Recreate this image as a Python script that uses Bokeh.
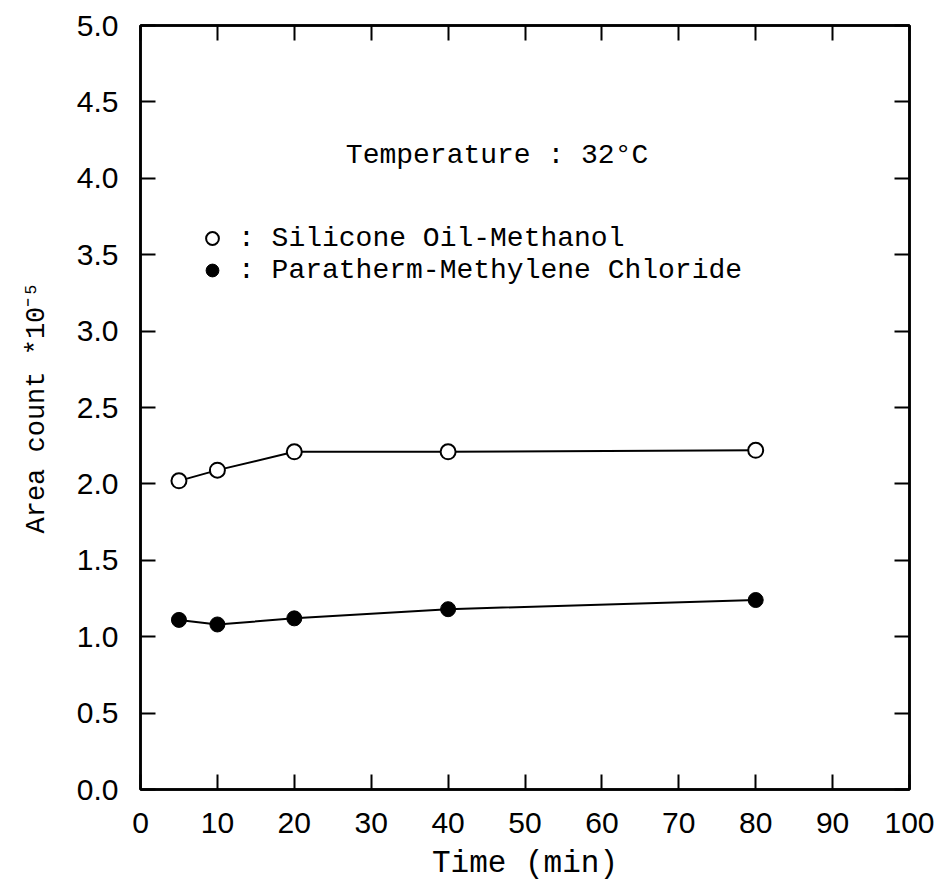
from bokeh.plotting import figure
from bokeh.models import (Range1d, LinearAxis, Label, Legend, LegendItem,
                          FixedTicker, CustomJSTickFormatter)
from bokeh.embed import file_html
from bokeh.resources import INLINE

# ---- data ----
time_min = [5, 10, 20, 40, 80]
silicone_methanol = [2.02, 2.09, 2.21, 2.21, 2.22]
paratherm_mecl2 = [1.11, 1.08, 1.12, 1.18, 1.24]
x_ticks = [0, 10, 20, 30, 40, 50, 60, 70, 80, 90, 100]
y_ticks = [0.0, 0.5, 1.0, 1.5, 2.0, 2.5, 3.0, 3.5, 4.0, 4.5, 5.0]

MONO = "Liberation Mono"
SANS = "Liberation Sans"

p = figure(width=947, height=890, output_backend="svg", toolbar_location=None,
           x_range=Range1d(0, 100), y_range=Range1d(0, 5),
           min_border_left=140, min_border_right=38,
           min_border_top=25, min_border_bottom=101,
           x_axis_type=None, y_axis_type=None)
p.xgrid.visible = False
p.ygrid.visible = False
p.background_fill_color = "white"
p.border_fill_color = "white"
p.outline_line_color = "black"
p.outline_line_width = 2.5


def style_axis(ax, show_labels, font_size="30px", standoff=22):
    ax.axis_line_color = "black"
    ax.axis_line_width = 2.5
    ax.major_tick_in = 15
    ax.major_tick_out = 0
    ax.major_tick_line_width = 2
    ax.major_tick_line_color = "black"
    ax.minor_tick_line_color = None
    if show_labels:
        ax.major_label_text_font = SANS
        ax.major_label_text_font_size = font_size
        ax.major_label_text_color = "black"
        ax.major_label_standoff = standoff
    else:
        ax.formatter = CustomJSTickFormatter(code="return ''")
        ax.major_label_text_font_size = "0px"
        ax.major_label_standoff = 0


xb = LinearAxis(ticker=FixedTicker(ticks=x_ticks))
style_axis(xb, True, standoff=23)
xb.axis_label = "Time (min)"
xb.axis_label_text_font = MONO
xb.axis_label_text_font_size = "31px"
xb.axis_label_text_font_style = "normal"
xb.axis_label_text_color = "black"
xb.axis_label_standoff = 10
p.add_layout(xb, "below")

yl = LinearAxis(ticker=FixedTicker(ticks=y_ticks))
style_axis(yl, True, standoff=22)
yl.formatter = CustomJSTickFormatter(code="return tick.toFixed(1)")
yl.axis_label = "Area count *10⁻⁵"
yl.axis_label_text_font = MONO
yl.axis_label_text_font_size = "27px"
yl.axis_label_text_font_style = "normal"
yl.axis_label_text_color = "black"
yl.axis_label_standoff = 22
p.add_layout(yl, "left")

xt = LinearAxis(ticker=FixedTicker(ticks=x_ticks))
style_axis(xt, False)
p.add_layout(xt, "above")
yr = LinearAxis(ticker=FixedTicker(ticks=y_ticks))
style_axis(yr, False)
p.add_layout(yr, "right")

# ---- series ----
p.line(time_min, silicone_methanol, line_color="black", line_width=2)
r_open = p.scatter(time_min, silicone_methanol, marker="circle", size=15,
                   fill_color="white", line_color="black", line_width=2)
p.line(time_min, paratherm_mecl2, line_color="black", line_width=2)
r_fill = p.scatter(time_min, paratherm_mecl2, marker="circle", size=15,
                   fill_color="black", line_color="black", line_width=1)

# ---- legend ----
legend = Legend(items=[LegendItem(label=": Silicone Oil-Methanol", renderers=[r_open]),
                       LegendItem(label=": Paratherm-Methylene Chloride", renderers=[r_fill])],
                location=(56, 503), orientation="vertical",
                label_text_font=MONO, label_text_font_size="28px",
                label_text_color="black", label_height=28, glyph_height=32,
                glyph_width=32, label_standoff=10, spacing=-4, padding=0,
                margin=0, border_line_color=None, background_fill_alpha=0)
p.add_layout(legend, "center")

# ---- texts ----
p.add_layout(Label(x=26.7, y=4.15, text="Temperature : 32°C", text_font=MONO,
                   text_font_size="28px", text_align="left",
                   text_baseline="middle", text_color="black"))

open("out.html", "w").write(file_html(p, INLINE))
